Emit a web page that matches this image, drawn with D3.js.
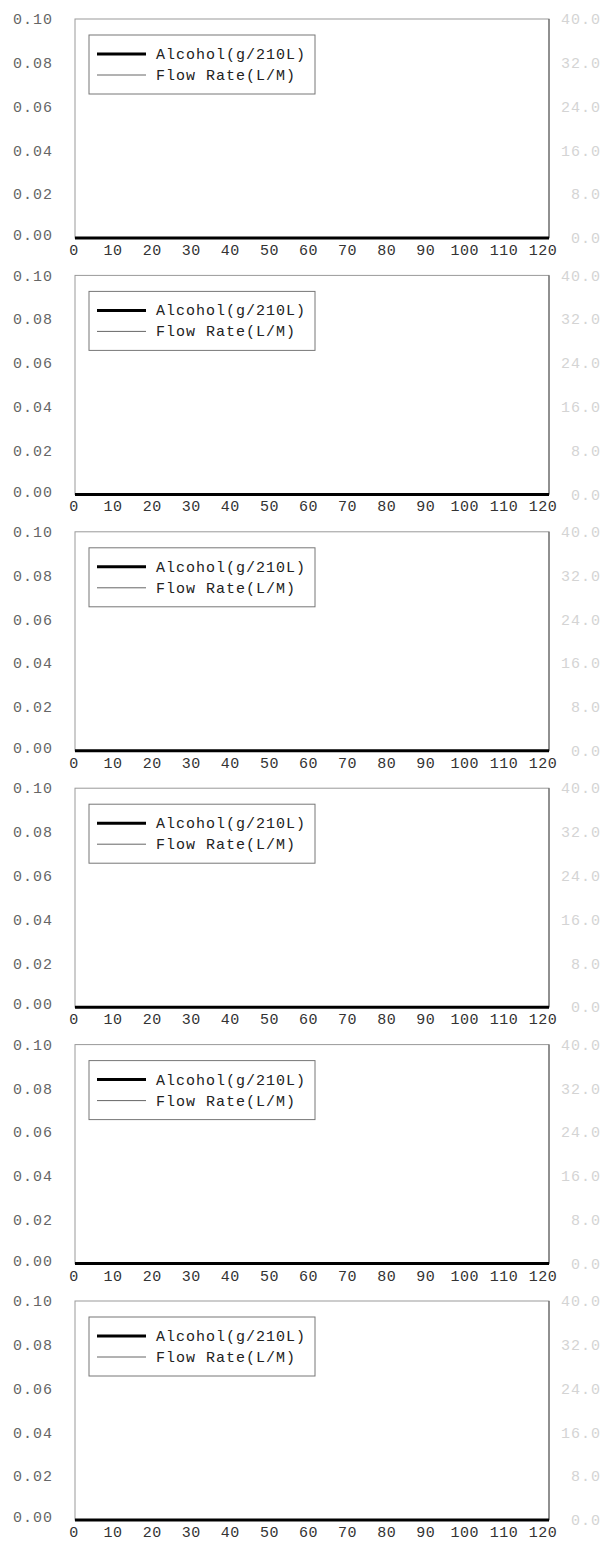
<!DOCTYPE html>
<html>
<head>
<meta charset="utf-8">
<script src="https://cdn.jsdelivr.net/npm/d3@7"></script>
<style>
  body { margin: 0; background: #fff; }
  svg text { font-family: "Liberation Mono", "DejaVu Sans Mono", monospace; }
</style>
</head>
<body>
<div id="chart"></div>
<script>
// tick values / labels
const xTicks = [0, 10, 20, 30, 40, 50, 60, 70, 80, 90, 100, 110, 120];
const yTicks = [0, 0.02, 0.04, 0.06, 0.08, 0.10];
const flowTicks = [0, 8, 16, 24, 32, 40];
const seriesNames = ["Alcohol(g/210L)", "Flow Rate(L/M)"];

// one entry per panel; the traces are blank in the scan
const alcoholSeries = [[], [], [], [], [], []];
const flowSeries = [[], [], [], [], [], []];

const W = 606, H = 1541;
const pitch = 256.4;
const top0 = 19, plotH = 219;
const left = 75, right = 549;

const svg = d3.select("#chart").append("svg")
    .attr("width", W).attr("height", H);

const x = d3.scaleLinear().domain([0, 120]).range([74, 543]);

alcoholSeries.forEach((alc, i) => {
    const t = top0 + i * pitch;
    const g = svg.append("g").attr("transform", `translate(0,${t})`);

    const y = d3.scaleLinear().domain([0, 0.1]).range([plotH, 0]);
    const y2 = d3.scaleLinear().domain([0, 40]).range([plotH, 0]);

    // frame
    g.append("rect")
        .attr("x", left).attr("y", 0)
        .attr("width", right - left).attr("height", plotH)
        .attr("fill", "none")
        .attr("stroke", "#999")
        .attr("stroke-width", 1);
    g.append("line")
        .attr("x1", right).attr("x2", right)
        .attr("y1", 0).attr("y2", plotH)
        .attr("stroke", "#555").attr("stroke-width", 1);
    g.append("line")
        .attr("x1", left).attr("x2", right)
        .attr("y1", plotH).attr("y2", plotH)
        .attr("stroke", "#000").attr("stroke-width", 3);

    // left axis labels
    g.selectAll("text.yl")
        .data(yTicks)
        .enter().append("text")
            .attr("class", "yl")
            .attr("x", 53)
            .attr("y", d => y(d) - (d === 0 ? 3 : 0))
            .attr("dy", "0.35em")
            .attr("text-anchor", "end")
            .attr("fill", "#666")
            .style("font-size", "15px")
            .style("letter-spacing", "1px")
            .text(d => d.toFixed(2));

    // right axis labels (faint in the scan)
    g.selectAll("text.yr")
        .data(flowTicks)
        .enter().append("text")
            .attr("class", "yr")
            .attr("x", 601)
            .attr("y", d => y2(d))
            .attr("dy", "0.35em")
            .attr("text-anchor", "end")
            .attr("fill", "#d4d4d4")
            .style("font-size", "15px")
            .style("letter-spacing", "1px")
            .text(d => d.toFixed(1));

    // bottom axis labels
    g.selectAll("text.xl")
        .data(xTicks)
        .enter().append("text")
            .attr("class", "xl")
            .attr("x", d => x(d))
            .attr("y", plotH + 17)
            .attr("text-anchor", "middle")
            .attr("fill", "#333")
            .style("font-size", "15px")
            .style("letter-spacing", "0.5px")
            .text(d => d);

    // data traces
    const line = d3.line().x(d => x(d[0]));
    g.append("path")
        .datum(alc)
        .attr("d", line.y(d => y(d[1])))
        .attr("fill", "none").attr("stroke", "#000").attr("stroke-width", 3);
    g.append("path")
        .datum(flowSeries[i])
        .attr("d", line.y(d => y2(d[1])))
        .attr("fill", "none").attr("stroke", "#444").attr("stroke-width", 1);

    // legend
    const lg = g.append("g").attr("transform", "translate(89,16)");
    lg.append("rect")
        .attr("width", 226).attr("height", 59)
        .attr("fill", "#fff")
        .attr("stroke", "#777").attr("stroke-width", 1);
    seriesNames.forEach((name, k) => {
        const ly = 19 + k * 21;
        lg.append("line")
            .attr("x1", 8).attr("x2", 57)
            .attr("y1", ly).attr("y2", ly)
            .attr("stroke", k === 0 ? "#000" : "#666")
            .attr("stroke-width", k === 0 ? 3 : 1);
        lg.append("text")
            .attr("x", 67).attr("y", ly + 5)
            .attr("fill", "#222")
            .style("font-size", "15px")
            .style("letter-spacing", "1px")
            .text(name);
    });
});
</script>
</body>
</html>
